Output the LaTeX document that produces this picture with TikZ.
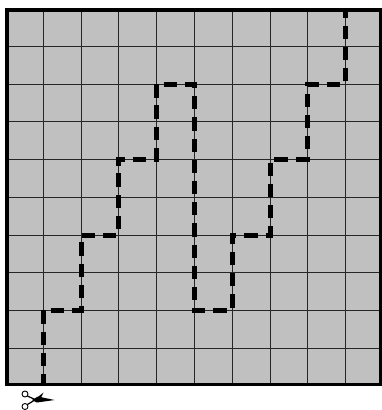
\documentclass[tikz,border=0pt]{standalone}
\usepackage{xcolor}
\definecolor{sheetgray}{HTML}{C0C0C0}
\tikzset{
  gridline/.style={line width=1pt,draw=black!85},
  frameline/.style={line width=3.8pt,draw=black},
  cutline/.style={line width=5pt,draw=black,dash pattern=on 13.3pt off 7.9pt,dash phase=1.3pt},
  ringline/.style={line width=0.9pt,draw=black,fill=white},
}
\begin{document}
\begin{tikzpicture}[x=1pt,y=-1pt]
  \useasboundingbox (0,0) rectangle (382,410);
  \fill[white] (0,0) rectangle (382,410);
  \fill[sheetgray] (6.8,10.3) rectangle (380.5,384.5);
  % grid
  \foreach \x in {43,81,118,156,194,232,270,307,345}{\draw[gridline] (\x,10) -- (\x,384);}
  \foreach \y in {46,84,121,159,197,235,272,310,348}{\draw[gridline] (7,\y) -- (381,\y);}
  \draw[frameline] (6.8,10.3) rectangle (380.5,384.5);
  % cut
  \draw[cutline] (43,386) -- (43,310) -- (81,310) -- (81,235) -- (118,235) -- (118,159) -- (156,159)
    -- (156,84) -- (194,84) -- (194,310) -- (232,310) -- (232,235) -- (270,235) -- (270,159)
    -- (307,159) -- (307,84) -- (345,84) -- (345,10);
  % scissors
  \draw[line width=1.2pt] (27.5,396) -- (38,401);
  \draw[line width=1.2pt] (27.5,404.5) -- (38,398);
  \fill (32,400) -- (38,396.5) -- (54.5,400) -- (37,402.5) -- cycle;
  \fill (33,401) -- (43.5,392.5) -- (40,399.5) -- cycle;
  \draw[ringline] (25,394) circle (3pt);
  \draw[ringline] (25,406.5) circle (3pt);
\end{tikzpicture}
\end{document}
